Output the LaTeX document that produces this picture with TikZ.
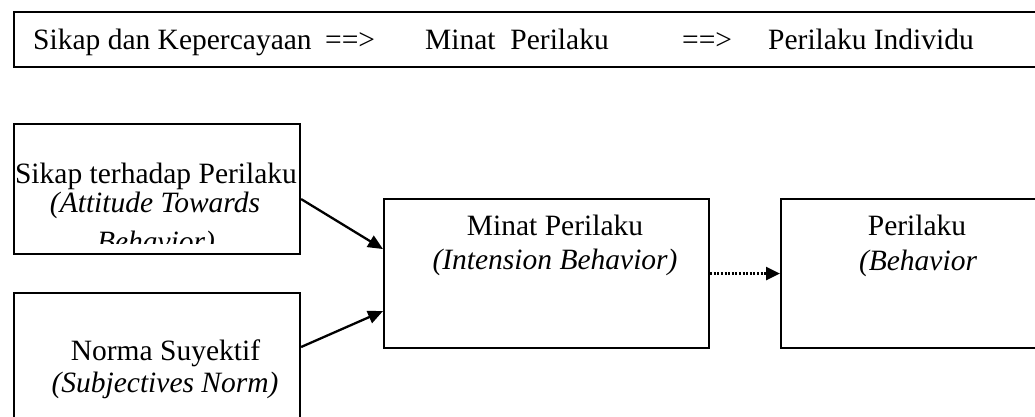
\documentclass[tikz,border=0pt]{standalone}
\usepackage{fontspec}
\setmainfont{Liberation Serif}
\usetikzlibrary{arrows.meta}
\begin{document}
\begin{tikzpicture}[x=1pt,y=-1pt,
  box/.style={draw=black,line width=2.1pt,rectangle,inner sep=0pt,anchor=north west},
  txt/.style={inner sep=0pt,anchor=base,font=\fontsize{29.5}{34}\selectfont},
  txtl/.style={inner sep=0pt,anchor=base west,font=\fontsize{29.5}{34}\selectfont},
  arr/.style={line width=2.3pt,-{Triangle[length=15pt,width=13pt]}},
  darr/.style={line width=2.4pt,dash pattern=on 2pt off 1.6pt,-{Triangle[length=14pt,width=13pt]}}]
\clip (0,0) rectangle (1035,416);
\fill[white] (0,0) rectangle (1035,416);
% top banner
\node[box,minimum width=1060pt,minimum height=55pt] (top) at (12.7,11) {};
\node[txtl] (t1) at (33,49) {Sikap dan Kepercayaan};
\node[txtl] (t2) at (325,49) {==>};
\node[txtl] (t3) at (425,49) {Minat\ \ Perilaku};
\node[txtl] (t4) at (682,49) {==>};
\node[txtl] (t5) at (768,49) {Perilaku Individu};
% boxes
\node[box,minimum width=286.3pt,minimum height=130pt] (A) at (12.7,123) {};
\node[box,minimum width=286.3pt,minimum height=180pt] (B) at (12.7,292) {};
\node[box,minimum width=325pt,minimum height=149pt] (M) at (383,198) {};
\node[box,minimum width=276pt,minimum height=149pt] (P) at (780,198) {};
% texts A
\node[txt] (a1) at (156,183) {Sikap terhadap Perilaku};
\node[txt] (a2) at (155,212) {\itshape (Attitude Towards};
\begin{scope}
\clip (14,150) rectangle (298,243);
\node[txt] (a3) at (156,251) {\itshape Behavior)};
\end{scope}
% texts B
\node[txt] (b1) at (165.5,360) {Norma Suyektif};
\node[txt] (b2) at (165,392) {\itshape (Subjectives Norm)};
% texts M
\node[txt] (m1) at (555,235) {Minat Perilaku};
\node[txt] (m2) at (555,269) {\itshape (Intension Behavior)};
% texts P
\node[txt] (p1) at (917,235) {Perilaku};
\node[txt] (p2) at (918,270) {\itshape (Behavior};
% connectors
\draw[arr] ([yshift=-10pt]A.east) -- ([yshift=24.5pt]M.west);
\draw[arr] ([yshift=-55pt]B.north east) -- ([yshift=-37.5pt]M.west);
\draw[darr] (M.east) -- (P.west);
\end{tikzpicture}
\end{document}
